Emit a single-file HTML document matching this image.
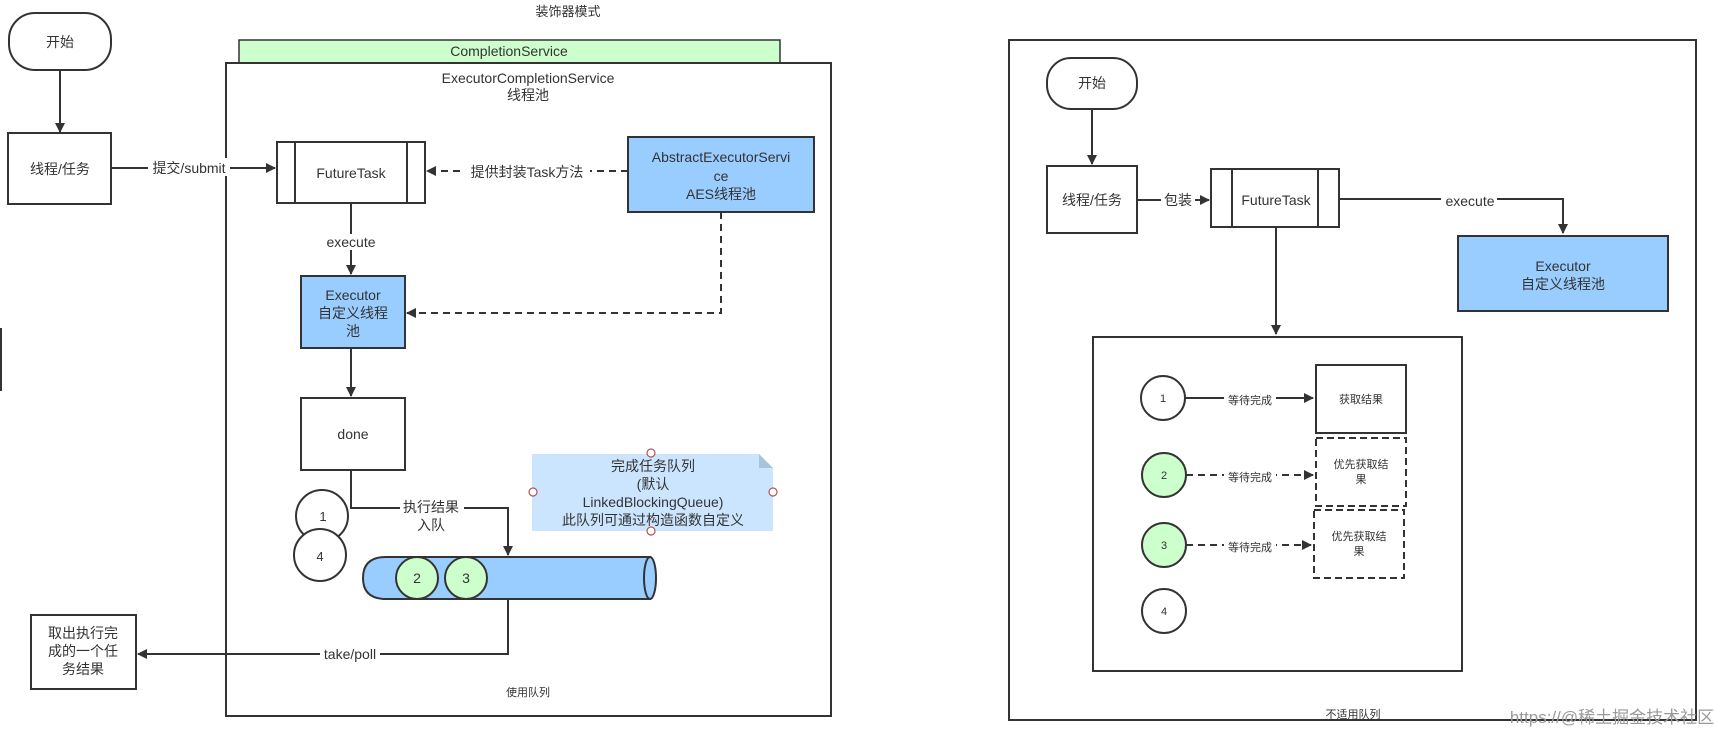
<!DOCTYPE html>
<html><head><meta charset="utf-8"><style>
html,body{margin:0;padding:0;background:#fff;}
svg{display:block;font-family:"Liberation Sans","Noto Sans CJK SC",sans-serif;}
text{fill:#333;}
</style></head><body>
<svg width="1714" height="736" viewBox="0 0 1714 736" xmlns="http://www.w3.org/2000/svg">
<defs>
<marker id="a" markerWidth="10" markerHeight="10" refX="9" refY="5" orient="auto" markerUnits="userSpaceOnUse"><path d="M0,0 L10,5 L0,10 Z" fill="#333"/></marker>
</defs>
<g stroke="#333" stroke-width="2" fill="none">
<!-- left diagram -->
<rect x="9" y="13" width="102" height="57" rx="26" fill="#fff"/>
<line x1="60" y1="70" x2="60" y2="132" marker-end="url(#a)"/>
<rect x="8" y="133" width="103" height="71" fill="#fff"/>
<rect x="239" y="40" width="541" height="23" fill="#ccffcc" stroke-width="1.5"/>
<rect x="226" y="63" width="605" height="653"/>
<rect x="277" y="142" width="148" height="61" fill="#fff"/>
<line x1="295" y1="142" x2="295" y2="203"/><line x1="407" y1="142" x2="407" y2="203"/>
<line x1="111" y1="168" x2="275" y2="168" marker-end="url(#a)"/>
<line x1="628" y1="171" x2="427" y2="171" stroke-dasharray="7,5" marker-end="url(#a)"/>
<rect x="628" y="137" width="186" height="75" fill="#99ccff"/>
<line x1="351" y1="203" x2="351" y2="274" marker-end="url(#a)"/>
<rect x="301" y="276" width="104" height="72" fill="#99ccff"/>
<polyline points="721,212 721,313 407,313" stroke-dasharray="7,5" marker-end="url(#a)"/>
<line x1="351" y1="348" x2="351" y2="396" marker-end="url(#a)"/>
<rect x="301" y="398" width="104" height="72" fill="#fff"/>
<polyline points="351,470 351,508 508,508 508,555" marker-end="url(#a)"/>
<circle cx="322" cy="516" r="26" fill="#fff"/>
<circle cx="320" cy="555" r="26" fill="#fff"/>
<path d="M386,557 L650,557 L650,599 L386,599 Q363,599 363,578 Q363,557 386,557 Z" fill="#99ccff"/>
<ellipse cx="650" cy="578" rx="6" ry="21" fill="#99ccff"/>
<circle cx="417" cy="578" r="21" fill="#ccffcc"/>
<circle cx="466" cy="578" r="21" fill="#ccffcc"/>
<polyline points="508,599 508,654 138,654" marker-end="url(#a)"/>
<rect x="31" y="615" width="105" height="74" fill="#fff"/>
<line x1="1" y1="328" x2="1" y2="391"/>
</g>
<path d="M532,454 L759,454 L773,468 L773,531 L532,531 Z" fill="#cce5ff"/>
<path d="M759,454 L773,468 L759,468 Z" fill="#a8c4dc"/>
<g fill="#fff" stroke="#b85450" stroke-width="1.2">
<circle cx="651" cy="453" r="4"/><circle cx="533" cy="492" r="4"/><circle cx="773" cy="492" r="4"/><circle cx="651" cy="531" r="4"/>
</g>
<g font-size="14" text-anchor="middle">
<text x="568" y="16" font-size="13">装饰器模式</text>
<text x="60" y="47">开始</text>
<text x="60" y="174">线程/任务</text>
<text x="509" y="56" fill="#333">CompletionService</text>
<text x="528" y="83">ExecutorCompletionService</text>
<text x="528" y="100">线程池</text>
<rect x="148" y="158" width="82" height="18" fill="#fff"/>
<text x="189" y="173">提交/submit</text>
<text x="351" y="178">FutureTask</text>
<rect x="465" y="162" width="125" height="18" fill="#fff"/>
<text x="527" y="177">提供封装Task方法</text>
<text x="721" y="162">AbstractExecutorServi</text>
<text x="721" y="181">ce</text>
<text x="721" y="199">AES线程池</text>
<rect x="320" y="234" width="62" height="16" fill="#fff"/>
<text x="351" y="247">execute</text>
<text x="353" y="300">Executor</text>
<text x="353" y="318">自定义线程</text>
<text x="353" y="336">池</text>
<text x="353" y="439">done</text>
<rect x="400" y="498" width="64" height="36" fill="#fff"/>
<text x="431" y="512">执行结果</text>
<text x="431" y="530">入队</text>
<text x="323" y="521" font-size="13">1</text>
<text x="320" y="561" font-size="13">4</text>
<text x="417" y="583">2</text>
<text x="466" y="583">3</text>
<text x="653" y="471">完成任务队列</text>
<text x="653" y="489">(默认</text>
<text x="653" y="507">LinkedBlockingQueue)</text>
<text x="653" y="525">此队列可通过构造函数自定义</text>
<rect x="320" y="645" width="60" height="18" fill="#fff"/>
<text x="350" y="659">take/poll</text>
<text x="83" y="638">取出执行完</text>
<text x="83" y="656">成的一个任</text>
<text x="83" y="674">务结果</text>
<text x="528" y="696" font-size="11">使用队列</text>
</g>
<!-- right diagram -->
<g stroke="#333" stroke-width="2" fill="none">
<rect x="1009" y="40" width="687" height="680"/>
<rect x="1047" y="58" width="90" height="51" rx="24" fill="#fff"/>
<line x1="1092" y1="109" x2="1092" y2="164" marker-end="url(#a)"/>
<rect x="1047" y="166" width="90" height="67" fill="#fff"/>
<line x1="1137" y1="200" x2="1209" y2="200" marker-end="url(#a)"/>
<rect x="1211" y="169" width="128" height="58" fill="#fff"/>
<line x1="1232" y1="169" x2="1232" y2="227"/><line x1="1318" y1="169" x2="1318" y2="227"/>
<polyline points="1339,199 1563,199 1563,233" marker-end="url(#a)"/>
<rect x="1458" y="236" width="210" height="75" fill="#99ccff"/>
<line x1="1276" y1="227" x2="1276" y2="334" marker-end="url(#a)"/>
<rect x="1093" y="337" width="369" height="334"/>
<circle cx="1163" cy="398" r="22" fill="#fff"/>
<circle cx="1164" cy="475" r="22" fill="#ccffcc"/>
<circle cx="1164" cy="545" r="22" fill="#ccffcc"/>
<circle cx="1164" cy="611" r="22" fill="#fff"/>
<line x1="1185" y1="398" x2="1313" y2="398" marker-end="url(#a)"/>
<line x1="1186" y1="475" x2="1313" y2="475" stroke-dasharray="7,5" marker-end="url(#a)"/>
<line x1="1186" y1="545" x2="1311" y2="545" stroke-dasharray="7,5" marker-end="url(#a)"/>
<rect x="1316" y="365" width="90" height="68" fill="#fff"/>
<rect x="1316" y="438" width="90" height="68" stroke-dasharray="7,4"/>
<rect x="1314" y="510" width="90" height="68" stroke-dasharray="7,4"/>
</g>
<g font-size="14" text-anchor="middle">
<text x="1092" y="88">开始</text>
<text x="1092" y="205">线程/任务</text>
<rect x="1161" y="192" width="34" height="16" fill="#fff"/>
<text x="1178" y="205">包装</text>
<text x="1276" y="205">FutureTask</text>
<rect x="1441" y="192" width="56" height="16" fill="#fff"/>
<text x="1470" y="206">execute</text>
<text x="1563" y="271">Executor</text>
<text x="1563" y="289">自定义线程池</text>
<g font-size="11">
<text x="1163" y="402">1</text><text x="1164" y="479">2</text><text x="1164" y="549">3</text><text x="1164" y="615">4</text>
<rect x="1224" y="393" width="52" height="14" fill="#fff"/><text x="1250" y="404">等待完成</text>
<rect x="1224" y="470" width="52" height="14" fill="#fff"/><text x="1250" y="481">等待完成</text>
<rect x="1224" y="540" width="52" height="14" fill="#fff"/><text x="1250" y="551">等待完成</text>
<text x="1361" y="403">获取结果</text>
<text x="1361" y="468">优先获取结</text><text x="1361" y="483">果</text>
<text x="1359" y="540">优先获取结</text><text x="1359" y="555">果</text>
<text x="1353" y="718">不适用队列</text>
</g>
<text x="1612" y="723" font-size="17" fill="#9a9a9a" style="fill:#9a9a9a">https://@稀土掘金技术社区</text>
</g>
</svg>
</body></html>
